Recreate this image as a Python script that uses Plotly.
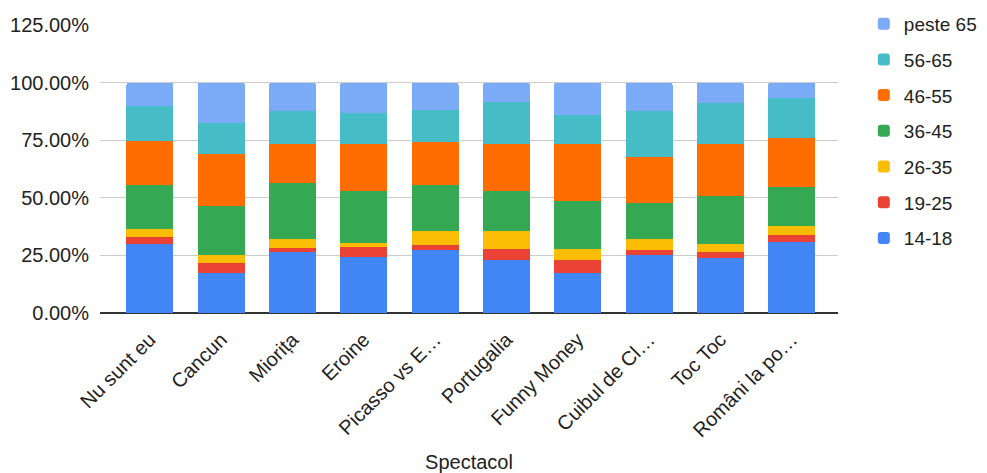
import plotly.graph_objects as go

categories = ["Nu sunt eu", "Cancun", "Miorița", "Eroine", "Picasso vs E…",
              "Portugalia", "Funny Money", "Cuibul de Cl…", "Toc Toc", "Români la po…"]

s_14_18 = [30.0, 17.3, 26.4, 24.2, 27.3, 22.9, 17.3, 25.0, 23.7, 30.8]
s_19_25 = [2.8, 4.2, 1.8, 4.3, 2.0, 5.0, 5.6, 2.2, 2.7, 2.9]
s_26_35 = [3.5, 3.6, 3.9, 2.1, 6.4, 7.8, 5.0, 4.9, 3.7, 4.2]
s_36_45 = [19.1, 21.3, 24.2, 22.2, 19.7, 17.1, 20.5, 15.5, 20.5, 16.9]
s_46_55 = [19.2, 22.6, 17.0, 20.5, 18.7, 20.5, 24.9, 19.9, 22.7, 21.3]
s_56_65 = [15.1, 13.5, 14.2, 13.5, 14.0, 18.4, 12.8, 20.0, 17.7, 17.1]
s_peste_65 = [10.3, 17.5, 12.5, 13.2, 11.9, 8.3, 13.9, 12.5, 9.0, 6.8]

series_names = ["14-18", "19-25", "26-35", "36-45", "46-55", "56-65", "peste 65"]
series_values = [s_14_18, s_19_25, s_26_35, s_36_45, s_46_55, s_56_65, s_peste_65]
series_colors = ["#4285F4", "#EA4335", "#FBBC04", "#34A853", "#FF6D01", "#46BDC6", "#7BAAF7"]

y_ticks = [0, 25, 50, 75, 100, 125]
y_tick_labels = ["0.00%", "25.00%", "50.00%", "75.00%", "100.00%", "125.00%"]

FONT = "Liberation Sans, Arial, sans-serif"
FS = 20

fig = go.Figure()
n = len(series_names)
for i, (name, vals, col) in enumerate(zip(series_names, series_values, series_colors)):
    fig.add_trace(go.Bar(
        x=categories, y=vals, name=name, marker_color=col,
        marker_line_width=0, legendgroup=name, legendrank=n - i,
    ))

fig.update_layout(
    barmode="stack",
    bargap=0.34,
    barcornerradius=3,
    width=979, height=465,
    margin=dict(l=92, r=149, t=17, b=160, autoexpand=False),
    plot_bgcolor="white", paper_bgcolor="white",
    font=dict(family=FONT, size=FS, color="#222222"),
    legend=dict(
        x=1.035, y=1.07, xanchor="left", yanchor="top",
        traceorder="grouped", tracegroupgap=8,
        font=dict(size=19, color="#222222"),
        itemwidth=30,
        maxheight=420,
    ),
    xaxis=dict(
        range=[-0.7, 9.65],
        tickangle=-45,
        title=dict(text="Spectacol", font=dict(size=FS, color="#222222"), standoff=30),
        showgrid=False,
        ticks="",
        automargin=False,
        ticklabelstandoff=10,
        tickfont=dict(size=FS, color="#222222"),
    ),
    yaxis=dict(
        range=[0, 125],
        tickvals=y_ticks,
        ticktext=y_tick_labels,
        gridcolor="#cccccc",
        gridwidth=1,
        zeroline=True,
        zerolinecolor="#333333",
        zerolinewidth=1.5,
        automargin=False,
        tickfont=dict(size=FS, color="#222222"),
        ticklabelstandoff=10,
    ),
)

fig.write_html("out.html")
